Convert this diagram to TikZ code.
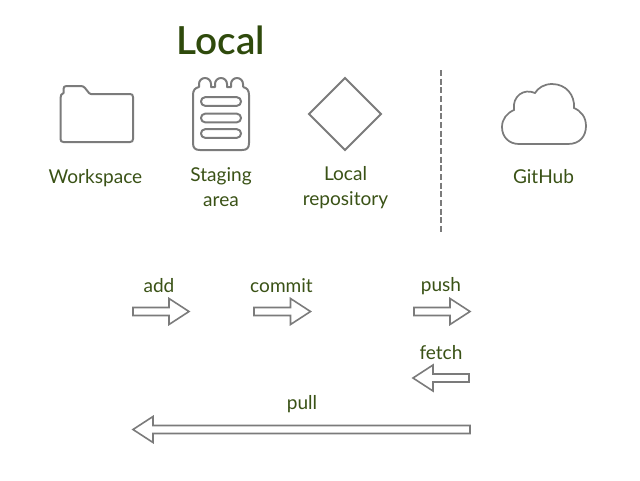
\documentclass[tikz,border=0pt]{standalone}
\usepackage{fontspec}
\setmainfont{Lato}
\newfontfamily\ttlfont{Lato Semibold}
\definecolor{txt}{HTML}{3A5216}
\definecolor{ttl}{HTML}{2F4A0C}
\definecolor{ico}{HTML}{7B7B7B}
\newcommand{\rarrowshape}[3]{\draw[arrowline] (#1,#3-4) -- (#2-20,#3-4) -- (#2-20,#3-13) -- (#2,#3) -- (#2-20,#3+13) -- (#2-20,#3+4) -- (#1,#3+4) -- cycle;}
\newcommand{\larrowshape}[3]{\draw[arrowline] (#1,#3-4) -- (#2+20,#3-4) -- (#2+20,#3-13) -- (#2,#3) -- (#2+20,#3+13) -- (#2+20,#3+4) -- (#1,#3+4) -- cycle;}
\begin{document}
\begin{tikzpicture}[x=0.75pt,y=-0.75pt,
  lbl/.style={text=txt,font=\fontsize{14.3}{18.7}\selectfont,align=center,inner sep=0pt,anchor=center},
  iconline/.style={draw=ico,line width=1.5pt,line join=round},
  arrowline/.style={draw=ico,line width=1.2pt,line join=miter,fill=white}]
\useasboundingbox (0,0) rectangle (640,480);
\node[text=ttl,font=\fontsize{29}{32}\ttlfont,inner sep=0pt] (title) at (221,40) {Local};
% folder
\draw[iconline] (60.5,98) .. controls (60.5,95) and (61.5,94) .. (63.5,93) -- (63.5,89)
  .. controls (63.5,87) and (64.5,86) .. (66.5,86) -- (81,86)
  .. controls (83,86) and (84,87) .. (85,88) -- (89,93)
  .. controls (89.5,93.7) and (90,94) .. (91,94) -- (130,94)
  .. controls (132,94) and (133,95) .. (133,97) -- (133,139)
  .. controls (133,141) and (132,142) .. (130,142) -- (63.5,142)
  .. controls (61.5,142) and (60.5,141) .. (60.5,139) -- cycle;
% notepad
\draw[iconline] (193,95) -- (193,143) .. controls (193,148) and (195,150) .. (200,150)
  -- (242,150) .. controls (247,150) and (249,148) .. (249,143) -- (249,95)
  .. controls (249,90) and (247,88) .. (243,87);
\draw[iconline] (193,95) .. controls (193,90) and (195,88) .. (199,87) -- (199,84)
  arc[start angle=180,end angle=360,radius=6] -- (211,87) -- (215,87) -- (215,84)
  arc[start angle=180,end angle=360,radius=6] -- (227,87) -- (231,87) -- (231,84)
  arc[start angle=180,end angle=360,radius=6] -- (243,87);
\foreach \y in {101.5,118,133.5}{
  \draw[iconline,rounded corners=3.1pt] (201,\y-4.3) rectangle (241,\y+4.3);
}
% diamond
\draw[iconline,line join=miter] (345,78) -- (381,114) -- (345,150) -- (309,114) -- cycle;
% separator
\draw[draw=ico,line width=1.5pt,dash pattern=on 4.5pt off 2pt] (441,70) -- (441,233);
% cloud
\draw[draw=ico,line width=1.3pt] (519,144) -- (568,144)
  .. controls (580,144) and (586,136) .. (586,126)
  .. controls (586,117) and (581,111) .. (574,108)
  .. controls (575,95) and (566,84) .. (552,84)
  .. controls (544,84) and (538,88) .. (535,93)
  .. controls (524,88) and (512,96) .. (514,110)
  .. controls (507,113) and (502,119) .. (502,127)
  .. controls (502,137) and (509,144) .. (519,144) -- cycle;
% labels
\node[lbl] (workspace) at (95.5,178) {Workspace};
\node[lbl] (staging) at (221,187) {Staging\\area};
\node[lbl] (repo) at (345.5,188) {Local\\repository};
\node[lbl] (github) at (543.5,176.5) {GitHub};
\node[lbl] (add) at (159,285.5) {add};
\node[lbl] (commit) at (281.5,285.5) {commit};
\node[lbl] (push) at (441,286.5) {push};
\node[lbl] (fetch) at (441,352.5) {fetch};
\node[lbl] (pull) at (302,404.5) {pull};
% arrows
\rarrowshape{133}{189}{311.5}
\rarrowshape{254}{310.5}{311.5}
\rarrowshape{414}{470}{311.5}
\larrowshape{469}{413}{378}
\larrowshape{470}{133}{429.5}
\end{tikzpicture}
\end{document}
